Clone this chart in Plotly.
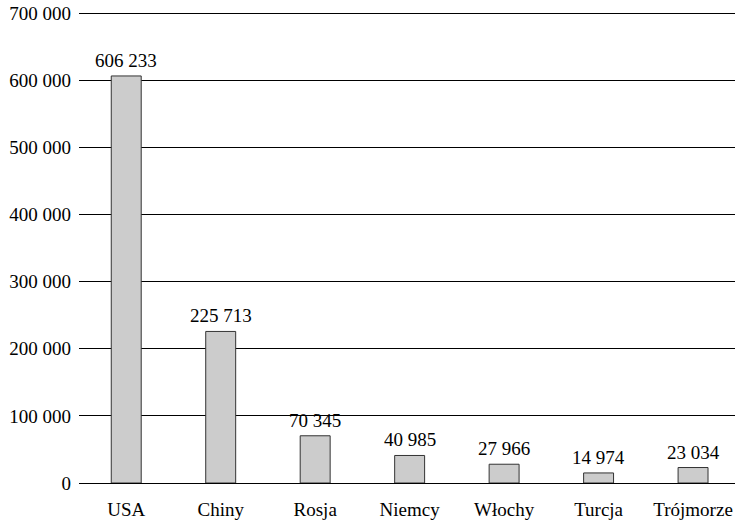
import plotly.graph_objects as go

categories = ["USA", "Chiny", "Rosja", "Niemcy", "Włochy", "Turcja", "Trójmorze"]
values = [606233, 225713, 70345, 40985, 27966, 14974, 23034]
value_labels = ["606 233", "225 713", "70 345", "40 985", "27 966", "14 974", "23 034"]
y_ticks = [0, 100000, 200000, 300000, 400000, 500000, 600000, 700000]
y_tick_labels = ["0", "100 000", "200 000", "300 000", "400 000", "500 000", "600 000", "700 000"]

FONT = "Liberation Serif"

fig = go.Figure()
fig.add_trace(go.Bar(
    x=categories, y=values,
    marker=dict(color="#cccccc", line=dict(color="#333333", width=1)),
    hoverinfo="skip",
))

for c, v, t in zip(categories, values, value_labels):
    fig.add_annotation(x=c, y=v, text=t, showarrow=False, yanchor="bottom",
                       yshift=3, font=dict(family=FONT, size=19, color="black"))

fig.update_layout(
    width=735, height=522,
    margin=dict(l=79, r=0, t=11, b=39, autoexpand=False),
    paper_bgcolor="white", plot_bgcolor="white",
    bargap=0.683,
    showlegend=False,
    hovermode=False,
    font=dict(family=FONT, size=19, color="black"),
)
fig.update_xaxes(
    type="category", range=[-0.5, 6.444], automargin=False,
    showgrid=False, showline=True, linecolor="black", linewidth=1,
    ticks="", ticklabelstandoff=9,
    tickfont=dict(family=FONT, size=19, color="black"),
)
fig.update_yaxes(
    range=[0, 702979], tickvals=y_ticks, ticktext=y_tick_labels, automargin=False,
    showgrid=True, gridcolor="black", gridwidth=1,
    zeroline=False, showline=False, ticks="", ticklabelstandoff=7,
    tickfont=dict(family=FONT, size=19, color="black"),
)

fig.write_html("out.html", config={"displayModeBar": False},
               post_script="document.body.style.margin='0';document.body.style.padding='0';")
